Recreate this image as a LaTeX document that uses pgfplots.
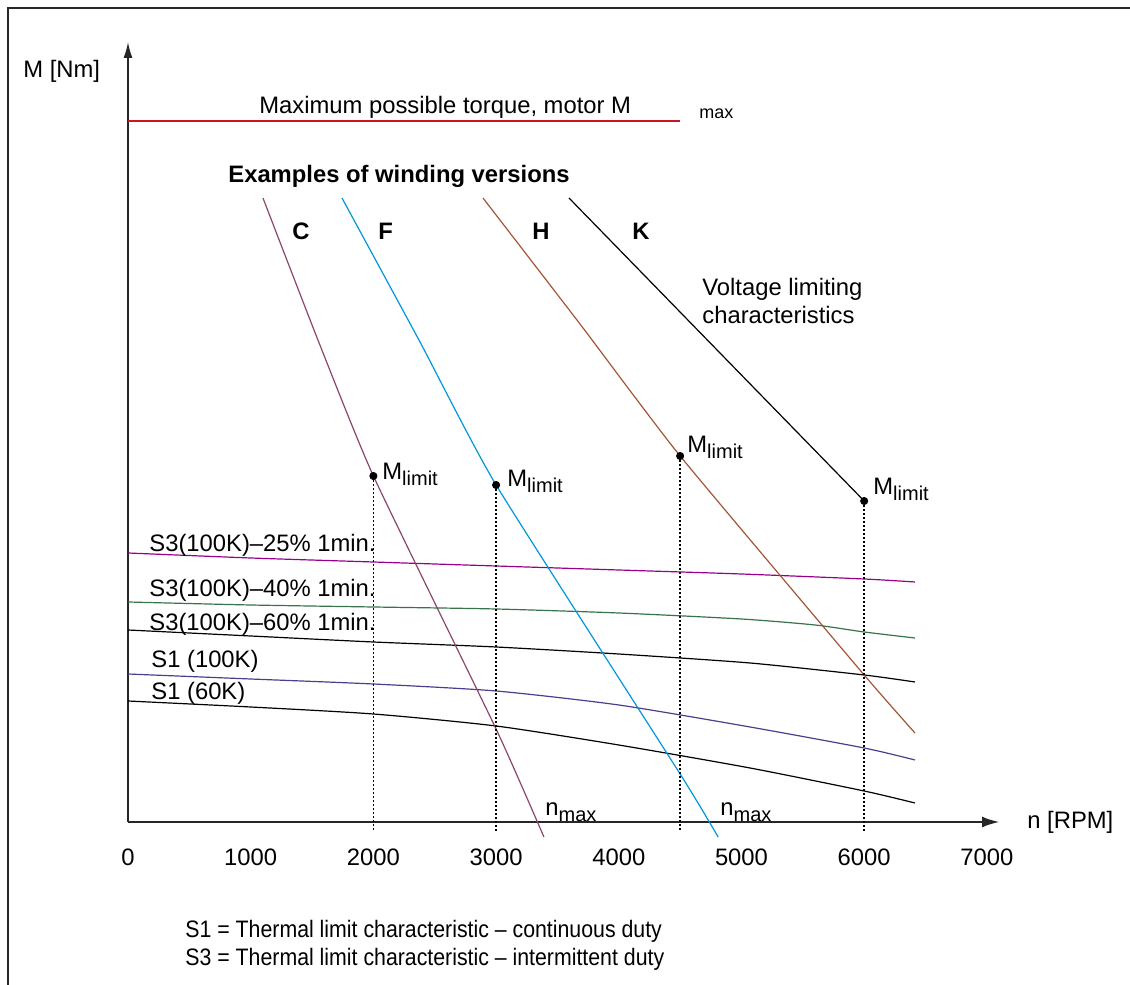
\documentclass[border=0pt]{standalone}
\usepackage{pgfplots}
\pgfplotsset{compat=1.18}
\usepackage{fontspec}
\setmainfont{Liberation Sans}
\newfontfamily\narrowfont{Liberation Sans}[FakeStretch=0.895]
\usetikzlibrary{arrows.meta}

\newcommand\lbl{\fontsize{11.9pt}{14pt}\selectfont}
\newcommand\sub[1]{\raisebox{-2.6pt}{\fontsize{10pt}{12pt}\selectfont #1}}

\definecolor{maxred}{RGB}{205,20,35}
\definecolor{windC}{RGB}{140,70,110}
\definecolor{windF}{RGB}{0,150,220}
\definecolor{windH}{RGB}{165,85,55}
\definecolor{sthreeA}{RGB}{150,0,140}
\definecolor{sthreeB}{RGB}{55,115,75}
\definecolor{sonehot}{RGB}{80,60,140}
\definecolor{frame}{RGB}{40,40,40}

\begin{document}
\begin{tikzpicture}[font=\lbl]
\useasboundingbox (0,0) rectangle (565pt,492.5pt);
% frame
\draw[line width=1pt, frame] (4pt,0) -- (4pt,488.5pt) -- (565pt,488.5pt);

\begin{axis}[
  at={(64pt,81.5pt)}, anchor=south west,
  scale only axis, width=436pt, height=390pt,
  xmin=0, xmax=7107, ymin=0, ymax=780,
  axis lines*=left, clip=false,
  xtick={0,1000,...,7000},
  xticklabels={0,1000,2000,3000,4000,5000,6000,7000},
  ytick=\empty,
  major tick length=0pt,
  xticklabel style={anchor=base, yshift=-22pt, font=\lbl},
  x axis line style={line width=1.4pt, black!85, -{Latex[length=9pt,width=5.5pt]}},
  y axis line style={line width=0.8pt, black!85, -{Latex[length=8pt,width=4.5pt]}},
  thermal/.style={line width=0.6pt, smooth, tension=0.4},
]
% maximum motor torque
\addplot[maxred, line width=0.6pt] coordinates {(0,701) (4500,701)};

% thermal limit characteristics
\addplot[sthreeA, thermal] coordinates {
  (0,269) (1000,264) (2000,260) (3000,256) (4000,252) (5000,248) (6000,243) (6414,240)};
\addplot[sthreeB, thermal] coordinates {
  (0,220) (1000,217) (2000,215) (3000,213) (4000,209) (5000,203) (5600,197) (6000,190) (6414,184)};
\addplot[black, thermal] coordinates {
  (0,192) (1000,186) (2000,180) (3000,175) (4000,168) (5070,159) (6000,147) (6414,140)};
\addplot[sonehot, thermal] coordinates {
  (0,148) (1000,143) (2000,138) (3000,131) (4000,117) (5070,95) (6000,74) (6414,62)};
\addplot[black, thermal] coordinates {
  (0,121) (1000,115) (2000,108) (3000,96) (4000,77) (5070,54) (6000,31) (6414,19)};

% voltage limiting characteristics of the winding versions
\addplot[windC, line width=0.6pt, smooth, tension=0.3] coordinates {
  (1100,624) (1548,482) (2000,346) (3000,93) (3390,-15)};
\addplot[windF, line width=0.6pt, smooth, tension=0.3] coordinates {
  (1744,624) (2380,480) (3000,337) (4500,48) (4810,-15)};
\addplot[windH, line width=0.6pt, smooth, tension=0.3] coordinates {
  (2893,624) (3684,498) (4500,366) (6000,147) (6414,89)};
\addplot[black, line width=0.6pt] coordinates {
  (3594,624) (6000,321)};

% dotted drops from the limit points
\addplot[black, line width=0.7pt, dash pattern=on 1pt off 1pt] coordinates {(2000,346) (2000,-10)};
\addplot[black, line width=0.7pt, dash pattern=on 1pt off 1pt] coordinates {(3000,337) (3000,-10)};
\addplot[black, line width=0.7pt, dash pattern=on 1pt off 1pt] coordinates {(4500,366) (4500,-10)};
\addplot[black, line width=0.7pt, dash pattern=on 1pt off 1pt] coordinates {(6000,321) (6000,-10)};

% limit points
\addplot[only marks, mark=*, mark size=1.8pt, black] coordinates {
  (2000,346) (3000,337) (4500,366) (6000,321)};
\end{axis}

% axis titles
\node[anchor=base west, inner sep=0pt] at (11.5pt,453.5pt) {M [Nm]};
\node[anchor=base west, inner sep=0pt] at (513.5pt,78pt) {n [RPM]};

% top annotation
\node[anchor=base west, inner sep=0pt] at (129.5pt,435.5pt) {Maximum possible torque, motor M};
\node[anchor=base west, inner sep=0pt, font=\fontsize{9pt}{11pt}\selectfont] at (349.5pt,433pt) {max};
\node[anchor=base west, inner sep=0pt, font=\lbl\bfseries] at (114pt,401pt) {Examples of winding versions};
\node[anchor=base west, inner sep=0pt, font=\lbl\bfseries] at (146pt,372.5pt) {C};
\node[anchor=base west, inner sep=0pt, font=\lbl\bfseries] at (189pt,372.5pt) {F};
\node[anchor=base west, inner sep=0pt, font=\lbl\bfseries] at (266pt,372.5pt) {H};
\node[anchor=base west, inner sep=0pt, font=\lbl\bfseries] at (316pt,372.5pt) {K};
\node[anchor=base west, inner sep=0pt] at (351pt,344.5pt) {Voltage limiting};
\node[anchor=base west, inner sep=0pt] at (351pt,330.5pt) {characteristics};

% limit point labels
\node[anchor=base west, inner sep=0pt] at (191pt,252.5pt) {M\sub{limit}};
\node[anchor=base west, inner sep=0pt] at (253.5pt,249pt) {M\sub{limit}};
\node[anchor=base west, inner sep=0pt] at (343.5pt,266pt) {M\sub{limit}};
\node[anchor=base west, inner sep=0pt] at (436.5pt,245pt) {M\sub{limit}};

% thermal curve labels
\node[anchor=base west, inner sep=0pt] at (74.5pt,216.5pt) {S3(100K)–25\% 1min.};
\node[anchor=base west, inner sep=0pt] at (74.5pt,194pt) {S3(100K)–40\% 1min.};
\node[anchor=base west, inner sep=0pt] at (74.5pt,177pt) {S3(100K)–60\% 1min.};
\node[anchor=base west, inner sep=0pt] at (75.5pt,158.5pt) {S1 (100K)};
\node[anchor=base west, inner sep=0pt] at (75.5pt,142.5pt) {S1 (60K)};

% maximum speed labels
\node[anchor=base west, inner sep=0pt] at (272.5pt,84.5pt) {n\sub{max}};
\node[anchor=base west, inner sep=0pt] at (360pt,84.5pt) {n\sub{max}};

% footnote
\node[anchor=base west, inner sep=0pt, font=\narrowfont\lbl] at (92.5pt,23.5pt) {S1 = Thermal limit characteristic – continuous duty};
\node[anchor=base west, inner sep=0pt, font=\narrowfont\lbl] at (92.5pt,9.5pt) {S3 = Thermal limit characteristic – intermittent duty};
\end{tikzpicture}
\end{document}
